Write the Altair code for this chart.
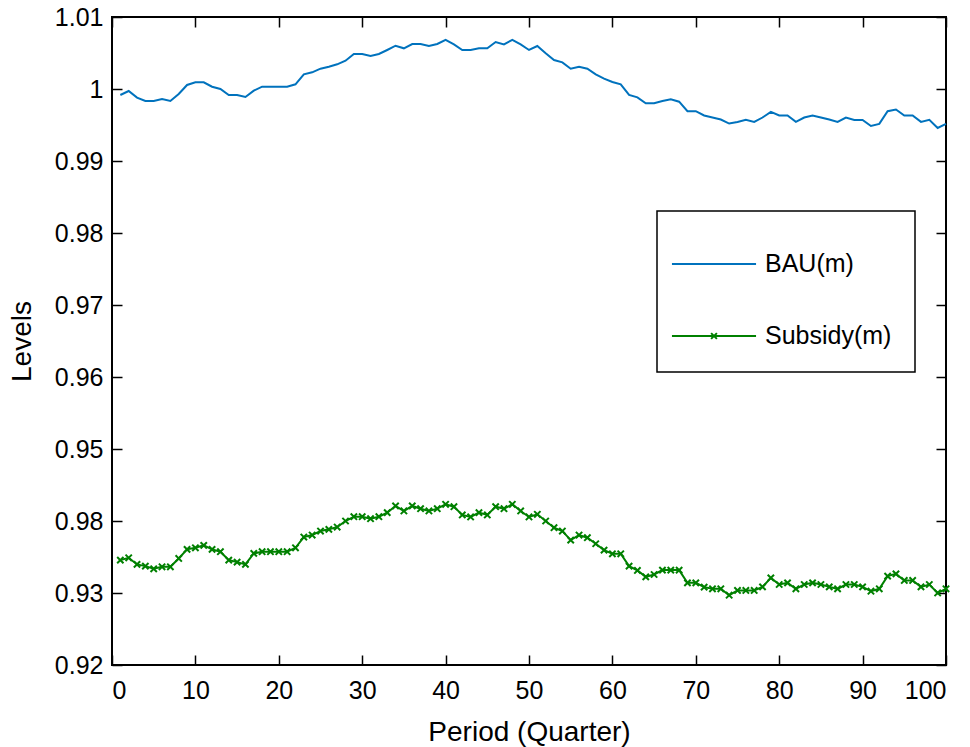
import altair as alt
import pandas as pd

series_names = ["BAU(m)", "Subsidy(m)"]
series_colors = ["#0072BD", "#008000"]

periods = list(range(1, 101))

bau = [
    0.99917, 0.99972, 0.99880, 0.99833, 0.99833, 0.99861, 0.99833, 0.99931, 1.00056, 1.00093,
    1.00093, 1.00032, 1.00000, 0.99917, 0.99917, 0.99889, 0.99977, 1.00032, 1.00032, 1.00032,
    1.00032, 1.00065, 1.00204, 1.00232, 1.00282, 1.00310, 1.00343, 1.00393, 1.00486, 1.00486,
    1.00458, 1.00486, 1.00542, 1.00601, 1.00565, 1.00625, 1.00625, 1.00597, 1.00625, 1.00681,
    1.00620, 1.00542, 1.00542, 1.00565, 1.00565, 1.00653, 1.00620, 1.00681, 1.00620, 1.00542,
    1.00597, 1.00496, 1.00403, 1.00370, 1.00282, 1.00310, 1.00282, 1.00204, 1.00144, 1.00097,
    1.00065, 0.99917, 0.99884, 0.99801, 0.99801, 0.99833, 0.99857, 0.99824, 0.99692, 0.99692,
    0.99632, 0.99604, 0.99576, 0.99520, 0.99543, 0.99571, 0.99543, 0.99604, 0.99683, 0.99632,
    0.99632, 0.99543, 0.99604, 0.99632, 0.99604, 0.99576, 0.99543, 0.99604, 0.99571, 0.99571,
    0.99487, 0.99515, 0.99692, 0.99716, 0.99632, 0.99632, 0.99543, 0.99571, 0.99459, 0.99515,
]

subsidy = [
    0.93457, 0.93489, 0.93397, 0.93373, 0.93336, 0.93364, 0.93364, 0.93480, 0.93606, 0.93628,
    0.93661, 0.93606, 0.93573, 0.93457, 0.93429, 0.93397, 0.93550, 0.93573, 0.93573, 0.93573,
    0.93573, 0.93628, 0.93777, 0.93805, 0.93861, 0.93884, 0.93916, 0.94000, 0.94060, 0.94060,
    0.94032, 0.94060, 0.94116, 0.94209, 0.94139, 0.94209, 0.94171, 0.94139, 0.94171, 0.94232,
    0.94199, 0.94084, 0.94056, 0.94116, 0.94084, 0.94199, 0.94171, 0.94232, 0.94139, 0.94056,
    0.94093, 0.94000, 0.93907, 0.93861, 0.93735, 0.93805, 0.93768, 0.93684, 0.93596, 0.93545,
    0.93545, 0.93373, 0.93313, 0.93224, 0.93257, 0.93318, 0.93318, 0.93318, 0.93141, 0.93141,
    0.93081, 0.93058, 0.93058, 0.92969, 0.93035, 0.93035, 0.93035, 0.93085, 0.93210, 0.93118,
    0.93141, 0.93058, 0.93118, 0.93141, 0.93118, 0.93085, 0.93058, 0.93118, 0.93118, 0.93085,
    0.93025, 0.93058, 0.93234, 0.93266, 0.93174, 0.93174, 0.93085, 0.93118, 0.93001, 0.93058,
]

x_ticks = [0, 10, 20, 30, 40, 50, 60, 70, 80, 90, 100]
y_ticks = [0.92, 0.93, 0.94, 0.95, 0.96, 0.97, 0.98, 0.99, 1.00, 1.01]

df_bau = pd.DataFrame({"period": periods, "value": bau, "series": series_names[0]})
df_sub = pd.DataFrame({"period": periods, "value": subsidy, "series": series_names[1]})

W, H = 834, 648
FONT = "Liberation Sans"

xscale = alt.Scale(domain=[0, 100], nice=False, zero=False)
yscale = alt.Scale(domain=[0.92, 1.01], nice=False, zero=False)
color_scale = alt.Scale(domain=series_names, range=series_colors)


def tick_axis(orient, offset, values):
    return alt.Axis(orient=orient, offset=offset, values=values, labels=False, ticks=True,
                    tickSize=10, tickWidth=1.5, tickColor="black", domain=False, grid=False,
                    title=None)


x_main = alt.Axis(orient="bottom", values=x_ticks, format="d", labelFont=FONT, labelFontSize=25,
                  labelColor="black", labelPadding=13, ticks=False, tickSize=0, domain=False,
                  grid=False, title="Period (Quarter)", titleFont=FONT, titleFontSize=28,
                  titleFontWeight="normal", titleColor="black", titlePadding=15)
y_main = alt.Axis(orient="left", values=y_ticks, format=".2~f",
                  labelExpr="abs(datum.value - 0.94) < 0.001 ? '0.98' : datum.label",
                  labelFont=FONT, labelFontSize=25, labelColor="black", labelPadding=9,
                  ticks=False, tickSize=0, domain=False, grid=False, title="Levels",
                  titleFont=FONT, titleFontSize=28, titleFontWeight="normal",
                  titleColor="black", titlePadding=18)

sym_expr = ("datum.value === 'BAU(m)' ? 'M-1.45,0H1.45' : "
            "'M-1.45,0H1.45M-0.1,-0.1L0.1,0.1M-0.1,0.1L0.1,-0.1'")

legend = alt.Legend(
    orient="none", legendX=545, legendY=194, title=None,
    labelFont=FONT, labelFontSize=25, labelColor="black",
    symbolSize=3364, symbolStrokeWidth=2, padding=23, rowPadding=29,
    symbolOffset=4, labelOffset=21, strokeColor="black", fillColor="white",
    symbolFillColor="transparent",
    symbolType={"expr": sym_expr},
)

bau_line = alt.Chart(df_bau).mark_line(strokeWidth=2).encode(
    x=alt.X("period:Q", scale=xscale, axis=x_main),
    y=alt.Y("value:Q", scale=yscale, axis=y_main),
    color=alt.Color("series:N", scale=color_scale, legend=legend),
)

sub_line = alt.Chart(df_sub).mark_line(strokeWidth=2, color=series_colors[1]).encode(
    x=alt.X("period:Q", scale=xscale, axis=tick_axis("top", -H, x_ticks)),
    y=alt.Y("value:Q", scale=yscale, axis=tick_axis("right", -W, y_ticks)),
)

sub_pts = alt.Chart(df_sub).mark_point(
    shape="M-1,-1L1,1M-1,1L1,-1", filled=False, size=40, strokeWidth=2,
    color=series_colors[1], opacity=1,
).encode(
    x=alt.X("period:Q", scale=xscale, axis=tick_axis("bottom", -H, x_ticks)),
    y=alt.Y("value:Q", scale=yscale, axis=tick_axis("left", -W, y_ticks)),
)

chart = alt.layer(bau_line, sub_line, sub_pts).resolve_axis(
    x="independent", y="independent"
).properties(
    width=W, height=H,
    autosize=alt.AutoSizeParams(type="none"),
    padding={"left": 112, "top": 17, "right": 24, "bottom": 82},
    background="white",
).configure_view(stroke="black", strokeWidth=2).configure_legend(strokeWidth=1.5)

chart.save("out.html", embed_options={"renderer": "svg", "actions": False})
